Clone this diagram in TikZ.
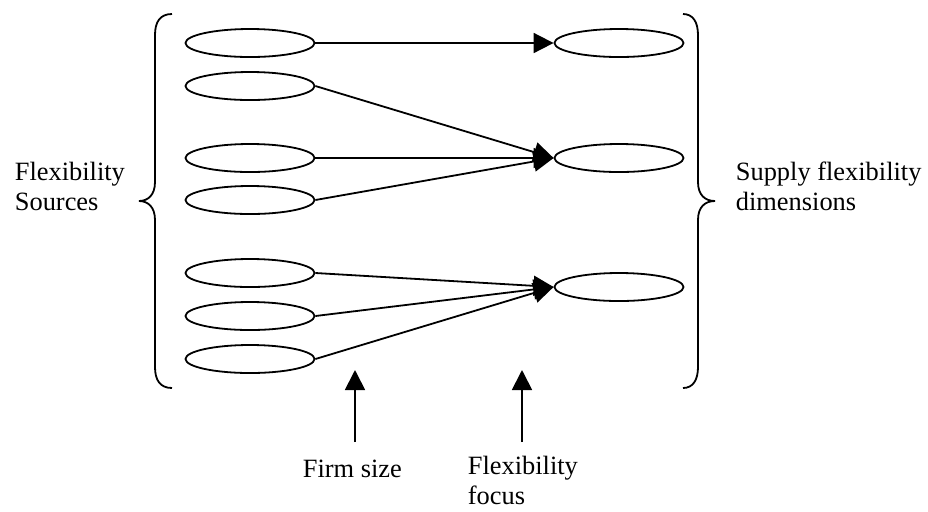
\documentclass[tikz,border=0pt]{standalone}
\usepackage{fontspec}
\setmainfont{Liberation Serif}
\usetikzlibrary{shapes.geometric,arrows.meta}
\tikzstyle{source} = [draw, ellipse, line width=0.9pt,
    minimum width=64.5pt, minimum height=14pt, inner sep=0pt]
\tikzstyle{dimension} = [source]
\tikzstyle{sidetext} = [inner sep=0pt, align=left, font=\fontsize{13.2pt}{15pt}\selectfont]

\begin{document}
\begin{tikzpicture}[x=0.5pt, y=-0.5pt, >={Triangle[length=10pt, width=10pt]}, line width=0.9pt]
    \useasboundingbox (0,0) rectangle (928,511);
    \node [source] (s1) at (250,43) {};
    \node [source] (s2) at (250,86) {};
    \node [source] (s3) at (250,158) {};
    \node [source] (s4) at (250,200) {};
    \node [source] (s5) at (250,273) {};
    \node [source] (s6) at (250,316) {};
    \node [source] (s7) at (250,359) {};
    \node [dimension] (d1) at (619,43) {};
    \node [dimension] (d2) at (619,158) {};
    \node [dimension] (d3) at (619,287) {};

    \draw [draw,->] (s1.east) -- (d1.west);
    \draw [draw,->] (s2.east) -- (d2.west);
    \draw [draw,->] (s3.east) -- (d2.west);
    \draw [draw,->] (s4.east) -- (d2.west);
    \draw [draw,->] (s5.east) -- (d3.west);
    \draw [draw,->] (s6.east) -- (d3.west);
    \draw [draw,->] (s7.east) -- (d3.west);

    % braces
    \draw (172,14) .. controls (160,14) and (155,22) .. (155,35) -- (155,182)
        .. controls (155,195) and (148,201) .. (139,201)
        .. controls (148,201) and (155,207) .. (155,220) -- (155,367)
        .. controls (155,380) and (160,388) .. (172,388);
    \draw (683,14) .. controls (693,14) and (698,22) .. (698,35) -- (698,182)
        .. controls (698,195) and (705,201) .. (715,201)
        .. controls (705,201) and (698,207) .. (698,220) -- (698,367)
        .. controls (698,380) and (693,388) .. (683,388);

    \node [sidetext, anchor=base west] (sources) at (14,210) {Flexibility\\Sources};
    \node [sidetext, anchor=base west] (supply) at (735,210) {Supply flexibility\\dimensions};
    \node [sidetext, anchor=base west] (firm) at (302,477) {Firm size};
    \node [sidetext, anchor=base west] (focus) at (467,504) {Flexibility\\focus};

    \coordinate (firmtail) at (355,442);
    \coordinate (firmtip) at (355,370);
    \coordinate (focustail) at (522,442);
    \coordinate (focustip) at (522,370);
    \draw [draw,->] (firmtail) -- (firmtip);
    \draw [draw,->] (focustail) -- (focustip);
\end{tikzpicture}
\end{document}
